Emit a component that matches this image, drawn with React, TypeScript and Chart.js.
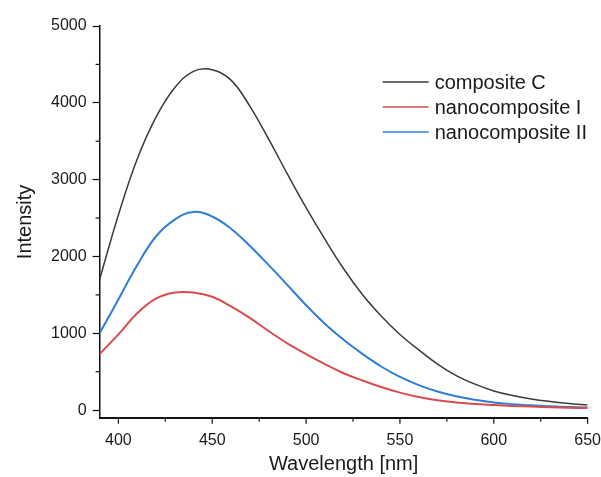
import React, { useEffect, useRef } from "react";
import { Chart, registerables } from "chart.js";

Chart.register(...registerables);

const wavelengths = [390, 400, 410, 420, 430, 440, 450, 460, 470, 480, 490, 500, 510, 520, 530, 540, 550, 560, 570, 580, 590, 600, 610, 620, 630, 640, 650];
const compositeC = [1700, 2540, 3265, 3810, 4195, 4410, 4430, 4295, 3958, 3530, 3075, 2635, 2225, 1840, 1505, 1225, 985, 785, 600, 450, 338, 250, 190, 145, 112, 86, 65];
const nanocompositeI = [730, 985, 1260, 1450, 1530, 1530, 1475, 1350, 1200, 1030, 870, 730, 600, 480, 385, 300, 228, 170, 128, 100, 80, 67, 55, 46, 38, 31, 26];
const nanocompositeII = [1000, 1440, 1885, 2260, 2480, 2580, 2520, 2361, 2140, 1890, 1630, 1365, 1125, 915, 732, 568, 432, 326, 243, 180, 135, 100, 78, 62, 50, 40, 33];

const seriesLabels = ["composite C", "nanocomposite I", "nanocomposite II"];
const seriesColors = ["#3a3a3a", "#d94c4c", "#2f7ed4"];

const xMajorTicks = [400, 450, 500, 550, 600, 650];
const xMinorTicks = [425, 475, 525, 575, 625];
const yMajorTicks = [0, 1000, 2000, 3000, 4000, 5000];
const yMinorTicks = [500, 1500, 2500, 3500, 4500];

const FONT = "'Liberation Sans', Arial, sans-serif";

const toPoints = (vals: number[]) => wavelengths.map((x, i) => ({ x, y: vals[i] }));

const ticksPlugin = {
  id: "customTicks",
  afterDraw(chart: any) {
    const ctx = chart.ctx;
    const xs = chart.scales.x;
    const ys = chart.scales.y;
    const area = chart.chartArea;
    ctx.save();
    ctx.strokeStyle = "#111";
    ctx.lineWidth = 1.2;
    const xTick = (v: number, len: number) => {
      const px = xs.getPixelForValue(v);
      ctx.beginPath();
      ctx.moveTo(px, area.bottom);
      ctx.lineTo(px, area.bottom + len);
      ctx.stroke();
    };
    xMajorTicks.forEach((v) => xTick(v, 6));
    xMinorTicks.forEach((v) => xTick(v, 4));
    yMinorTicks.forEach((v) => {
      const py = ys.getPixelForValue(v);
      ctx.beginPath();
      ctx.moveTo(area.left, py);
      ctx.lineTo(area.left - 4, py);
      ctx.stroke();
    });
    ctx.restore();
  },
};

const innerLegendPlugin = {
  id: "innerLegend",
  afterDraw(chart: any) {
    const ctx = chart.ctx;
    const area = chart.chartArea;
    const x0 = area.right - 205;
    const y0 = area.top + 56;
    ctx.save();
    ctx.font = `20px ${FONT}`;
    ctx.textBaseline = "middle";
    ctx.textAlign = "left";
    chart.data.datasets.forEach((ds: any, i: number) => {
      const y = y0 + i * 25;
      ctx.strokeStyle = ds.borderColor;
      ctx.lineWidth = 1.5;
      ctx.beginPath();
      ctx.moveTo(x0, y);
      ctx.lineTo(x0 + 46, y);
      ctx.stroke();
      ctx.fillStyle = "#1a1a1a";
      ctx.fillText(ds.label, x0 + 52, y + 1);
    });
    ctx.restore();
  },
};

export default function App() {
  const canvasRef = useRef<HTMLCanvasElement | null>(null);

  useEffect(() => {
    if (!canvasRef.current) return;
    const data = [compositeC, nanocompositeI, nanocompositeII];
    const chart = new Chart(canvasRef.current, {
      type: "line",
      data: {
        datasets: data.map((vals, i) => ({
          label: seriesLabels[i],
          data: toPoints(vals),
          borderColor: seriesColors[i],
          borderWidth: i === 0 ? 1.5 : 2,
          pointRadius: 0,
          fill: false,
          tension: 0.4,
        })),
      },
      options: {
        animation: false,
        responsive: true,
        maintainAspectRatio: false,
        layout: { padding: { top: 26, right: 0, left: 9, bottom: 3 } },
        plugins: {
          legend: { display: false },
          tooltip: { enabled: false },
        },
        scales: {
          x: {
            type: "linear",
            min: 390,
            max: 650,
            afterBuildTicks: (scale: any) => {
              scale.ticks = xMajorTicks.map((v) => ({ value: v }));
            },
            grid: { drawOnChartArea: false, drawTicks: true, tickLength: 13, tickColor: "rgba(0,0,0,0)", color: "#111" },
            border: { display: true, color: "#111", width: 2 },
            ticks: { font: { family: FONT, size: 16 }, color: "#1a1a1a", padding: 0, maxRotation: 0 },
            title: { display: true, text: "Wavelength [nm]", font: { family: FONT, size: 20, lineHeight: 1 }, color: "#1a1a1a", padding: { top: 4, bottom: 0 } },
          },
          y: {
            type: "linear",
            min: -100,
            max: 5000,
            afterBuildTicks: (scale: any) => {
              scale.ticks = yMajorTicks.map((v) => ({ value: v }));
            },
            grid: { drawOnChartArea: false, drawTicks: true, tickLength: 7, color: "#111", tickWidth: 1.2 },
            border: { display: true, color: "#111", width: 1.5 },
            ticks: { font: { family: FONT, size: 16 }, color: "#1a1a1a", padding: 6, callback: (v: any) => String(v) },
            title: { display: true, text: "Intensity", font: { family: FONT, size: 20 }, color: "#1a1a1a", padding: { bottom: 8 } },
          },
        },
      },
      plugins: [ticksPlugin, innerLegendPlugin],
    });
    return () => chart.destroy();
  }, []);

  return (
    <div style={{ position: "fixed", left: 0, top: 0, width: 601, height: 477, background: "#fff" }}>
      <canvas ref={canvasRef} />
    </div>
  );
}
